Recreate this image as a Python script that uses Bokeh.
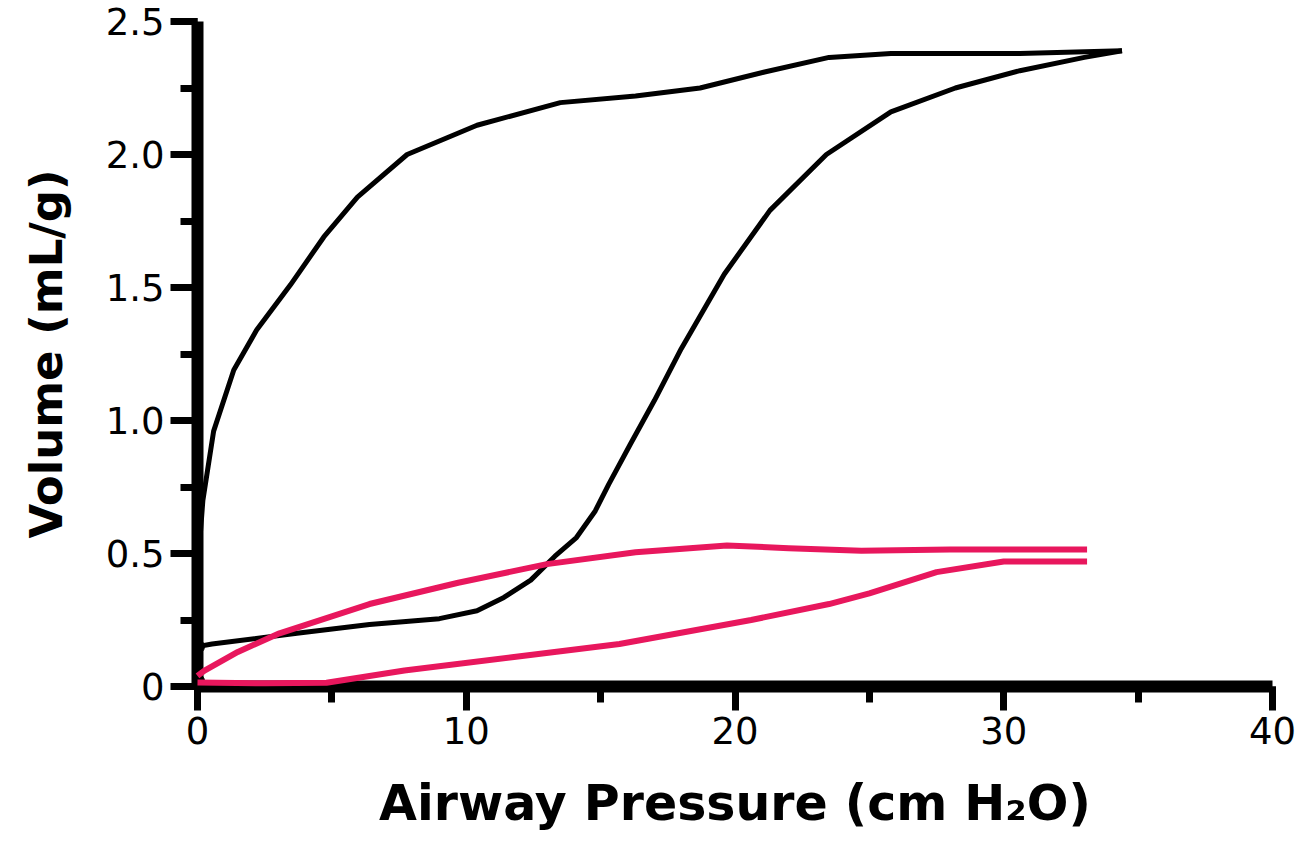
from bokeh.plotting import figure
from bokeh.models import Range1d, SingleIntervalTicker
from bokeh.embed import file_html
from bokeh.resources import INLINE

# Black loop: inflation and deflation limbs
black_infl_x = [0, 0.54, 3.7, 6.4, 9.0, 10.4, 11.4, 12.4, 13.3, 14.1, 14.8, 15.3, 16.1, 17.0, 18.0, 19.6, 21.3, 23.4, 25.8, 28.2, 30.6, 33.0, 34.4]
black_infl_y = [0.15, 0.16, 0.20, 0.233, 0.255, 0.285, 0.335, 0.40, 0.49, 0.56, 0.66, 0.76, 0.91, 1.075, 1.27, 1.55, 1.79, 2.00, 2.16, 2.25, 2.315, 2.365, 2.39]
black_defl_x = [34.4, 30.6, 25.8, 23.5, 21.1, 18.7, 16.3, 13.5, 10.4, 7.8, 5.95, 4.7, 3.46, 2.2, 1.35, 0.6, 0.2, 0.05, 0]
black_defl_y = [2.39, 2.38, 2.38, 2.365, 2.31, 2.25, 2.22, 2.195, 2.11, 2.00, 1.84, 1.69, 1.51, 1.34, 1.19, 0.96, 0.70, 0.50, 0.15]

# Pink loop: inflation and deflation limbs
pink_infl_x = [0, 2.5, 4.8, 7.7, 11.7, 15.7, 20.6, 23.5, 25, 27.5, 30, 33.1]
pink_infl_y = [0.015, 0.012, 0.014, 0.06, 0.11, 0.16, 0.25, 0.31, 0.35, 0.43, 0.47, 0.47]
pink_defl_x = [33.1, 28, 24.7, 22, 19.7, 16.3, 13.0, 9.7, 6.4, 3.05, 1.5, 0.26, 0]
pink_defl_y = [0.515, 0.515, 0.51, 0.52, 0.53, 0.505, 0.46, 0.39, 0.31, 0.20, 0.13, 0.06, 0.04]

# Starting points on the volume axis
start_x = [0, 0]
start_y = [0.15, 0.02]

x_label = "Airway Pressure (cm H\u2082O)"
y_label = "Volume (mL/g)"

PINK = "#E8175D"

p = figure(width=1303, height=857, output_backend="svg", toolbar_location=None,
           x_range=Range1d(0, 40), y_range=Range1d(0, 2.5),
           min_border_left=197, min_border_right=31, min_border_top=21, min_border_bottom=171)
p.outline_line_color = None
p.xgrid.visible = False
p.ygrid.visible = False

p.line(black_infl_x, black_infl_y, line_color="black", line_width=5, line_join="round")
p.line(black_defl_x, black_defl_y, line_color="black", line_width=5, line_join="round")
p.scatter(start_x, start_y, size=14, color="black")
p.line(pink_infl_x, pink_infl_y, line_color=PINK, line_width=6, line_join="round", level="overlay")
p.line(pink_defl_x, pink_defl_y, line_color=PINK, line_width=6, line_join="round", level="overlay")

p.xaxis.ticker = SingleIntervalTicker(interval=10, num_minor_ticks=2)
p.yaxis.ticker = SingleIntervalTicker(interval=0.5, num_minor_ticks=2)
p.yaxis.major_label_overrides = {0: "0", 0.5: "0.5", 1: "1.0", 1.5: "1.5", 2: "2.0", 2.5: "2.5"}

for ax in (p.xaxis[0], p.yaxis[0]):
    ax.axis_line_width = 12
    ax.axis_line_color = "black"
    ax.major_tick_line_width = 7
    ax.minor_tick_line_width = 7
    ax.major_tick_in = 0
    ax.minor_tick_in = 0
    ax.major_label_text_font = "DejaVu Sans"
    ax.major_label_text_font_size = "37px"
    ax.major_label_text_color = "black"
    ax.axis_label_text_font = "DejaVu Sans"
    ax.axis_label_text_font_style = "bold"
    ax.axis_label_text_color = "black"

p.yaxis.major_tick_out = 27
p.yaxis.minor_tick_out = 17
p.yaxis.major_label_standoff = 6
p.yaxis.axis_label = y_label
p.yaxis.axis_label_text_font_size = "45px"
p.yaxis.axis_label_standoff = 30

p.xaxis.major_tick_out = 24
p.xaxis.minor_tick_out = 16
p.xaxis.major_label_standoff = 6
p.xaxis.axis_label = x_label
p.xaxis.axis_label_text_font_size = "49px"
p.xaxis.axis_label_standoff = 28

open("out.html", "w").write(file_html(p, INLINE))
